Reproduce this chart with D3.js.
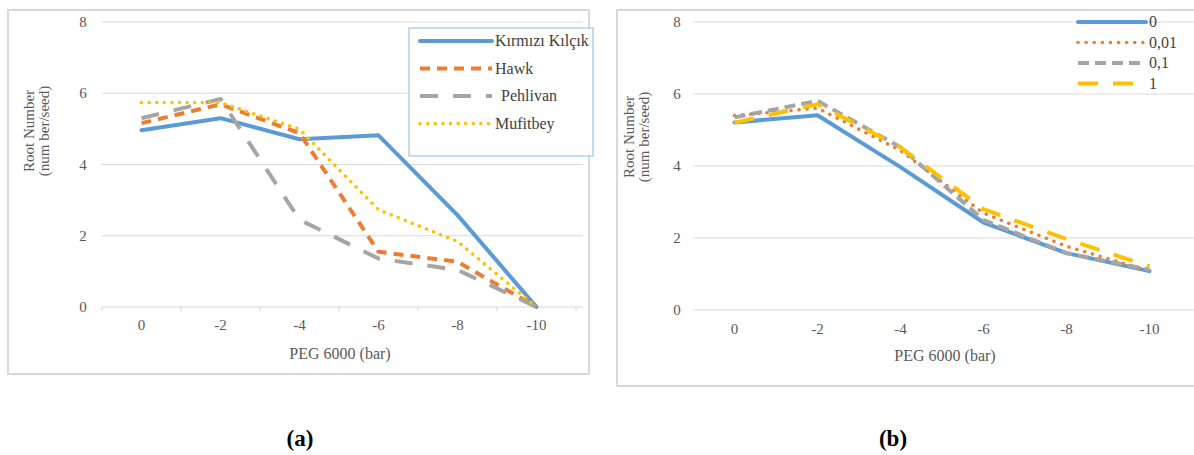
<!DOCTYPE html>
<html>
<head>
<meta charset="utf-8">
<script src="https://cdn.jsdelivr.net/npm/d3@7"></script>
<style>
  body { margin: 0; background: #fff; }
  svg { display: block; }
</style>
</head>
<body>
<svg id="chart" width="1194" height="455"></svg>
<script>
// categories and ticks
const categories = ["0", "-2", "-4", "-6", "-8", "-10"];
const yTicks = [0, 2, 4, 6, 8];

// panel (a): cultivars
const cultivarNames = ["Kırmızı Kılçık", "Hawk", "Pehlivan", "Mufitbey"];
const kirmiziKilcik = [4.96, 5.30, 4.71, 4.82, 2.58, 0];
const hawk = [5.16, 5.69, 4.88, 1.55, 1.27, 0];
const pehlivan = [5.30, 5.84, 2.45, 1.36, 1.04, 0];
const mufitbey = [5.74, 5.74, 4.99, 2.73, 1.84, 0];

// panel (b): doses
const doseNames = ["0", "0,01", "0,1", "1"];
const dose0 = [5.21, 5.41, 3.97, 2.43, 1.58, 1.08];
const dose001 = [5.40, 5.61, 4.43, 2.69, 1.77, 1.08];
const dose01 = [5.35, 5.81, 4.52, 2.50, 1.58, 1.12];
const dose1 = [5.20, 5.72, 4.52, 2.80, 1.97, 1.21];

const FONT = "'Liberation Serif', 'Times New Roman', serif";

const svg = d3.select('#chart');
svg.append('rect').attr('width', 1194).attr('height', 455).attr('fill', '#fff');

function drawPanel(p)
{
  let g = svg.append('g').style('font-family', FONT);

  g.append('rect')
    .attr('x', p.box[0]).attr('y', p.box[1])
    .attr('width', p.box[2]).attr('height', p.box[3])
    .attr('fill', '#fff')
    .attr('stroke', '#d9d9d9')
    .attr('stroke-width', 2)
  ;

  let x = d3.scaleBand().domain(categories).range(p.xRange);
  let y = d3.scaleLinear().domain([0, 8]).range(p.yRange);

  // grid
  g.selectAll('.grid')
    .data(yTicks)
    .enter()
    .append('line')
    .attr('x1', p.xRange[0]).attr('x2', p.gridEnd)
    .attr('y1', d => y(d)).attr('y2', d => y(d))
    .attr('stroke', '#d9d9d9')
    .attr('stroke-width', 1.2)
  ;

  g.selectAll('.ylab')
    .data(yTicks)
    .enter()
    .append('text')
    .attr('x', p.yLabelX)
    .attr('y', d => y(d) + 5)
    .attr('text-anchor', 'middle')
    .attr('fill', '#595959')
    .style('font-size', '15px')
    .text(d => d)
  ;

  if(p.xTicks)
  {
    let edges = categories.map(c => x(c)).concat([p.xRange[1]]);
    g.selectAll('.xtick')
      .data(edges)
      .enter()
      .append('line')
      .attr('x1', d => d).attr('x2', d => d)
      .attr('y1', y(0)).attr('y2', y(0) + 4)
      .attr('stroke', '#d9d9d9')
      .attr('stroke-width', 1.2)
    ;
  }

  g.selectAll('.xlab')
    .data(categories)
    .enter()
    .append('text')
    .attr('x', d => x(d) + x.bandwidth() / 2)
    .attr('y', p.xLabelY)
    .attr('text-anchor', 'middle')
    .attr('fill', '#595959')
    .style('font-size', '15px')
    .text(d => d)
  ;

  g.append('text')
    .attr('x', p.xTitle[0]).attr('y', p.xTitle[1])
    .attr('text-anchor', 'middle')
    .attr('fill', '#595959')
    .style('font-size', '16px')
    .text('PEG 6000 (bar)')
  ;

  let yt = g.append('text')
    .attr('transform', `translate(${p.yTitle[0]}, ${p.yTitle[1]}) rotate(-90)`)
    .attr('text-anchor', 'middle')
    .attr('fill', '#595959')
    .style('font-size', '15px')
  ;
  yt.append('tspan').attr('x', 0).attr('dy', 0).text('Root Number');
  yt.append('tspan').attr('x', 0).attr('dy', 15).text('(num ber/seed)');

  let line = d3.line()
    .x((d, i) => x(categories[i]) + x.bandwidth() / 2)
    .y(d => y(d));

  p.series.forEach(s => {
    g.append('path')
      .attr('d', line(s.values))
      .attr('fill', 'none')
      .attr('stroke', s.color)
      .attr('stroke-width', s.width)
      .attr('stroke-dasharray', s.dash)
      .attr('stroke-linecap', s.cap)
      .attr('stroke-linejoin', 'round')
    ;
  });

  if(p.legendBox)
  {
    g.append('rect')
      .attr('x', p.legendBox[0]).attr('y', p.legendBox[1])
      .attr('width', p.legendBox[2]).attr('height', p.legendBox[3])
      .attr('fill', '#fff')
      .attr('stroke', '#9dc3e6')
      .attr('stroke-width', 1.2)
    ;
  }

  let lg = g.selectAll('.legend')
    .data(p.series)
    .enter()
    .append('g')
    .attr('transform', (d, i) => `translate(${p.legend.x}, ${p.legend.y + i * p.legend.step})`)
  ;

  lg.append('line')
    .attr('x1', 0).attr('x2', p.legend.len)
    .attr('y1', 0).attr('y2', 0)
    .attr('stroke', d => d.color)
    .attr('stroke-width', d => d.width)
    .attr('stroke-dasharray', d => d.dash)
    .attr('stroke-linecap', d => d.cap)
  ;

  lg.append('text')
    .attr('x', d => p.legend.len + 3 + (d.pad || 0))
    .attr('y', 5)
    .attr('fill', '#404040')
    .style('font-size', '16px')
    .text(d => d.name)
  ;
}

drawPanel({
  box: [8, 10, 581, 364],
  xRange: [102, 576],
  gridEnd: 583,
  yRange: [307, 22],
  yLabelX: 83,
  xLabelY: 330,
  xTicks: true,
  xTitle: [340, 359],
  yTitle: [34, 131],
  legendBox: [409, 28, 184, 128],
  legend: { x: 420, y: 41, step: 27.5, len: 72 },
  series: [
    { name: cultivarNames[0], values: kirmiziKilcik, color: '#5b9bd5', width: 4, dash: null, cap: 'round' },
    { name: cultivarNames[1], values: hawk, color: '#ed7d31', width: 4, dash: '10 7', cap: 'butt' },
    { name: cultivarNames[2], values: pehlivan, color: '#a5a5a5', width: 4, dash: '18 15', cap: 'butt', pad: 6 },
    { name: cultivarNames[3], values: mufitbey, color: '#ffc000', width: 3.5, dash: '0.1 7.5', cap: 'round' }
  ]
});

drawPanel({
  box: [617, 10, 590, 376],
  xRange: [693, 1191],
  gridEnd: 1194,
  yRange: [310, 22],
  yLabelX: 677,
  xLabelY: 334,
  xTicks: false,
  xTitle: [945, 361],
  yTitle: [634, 137],
  legendBox: null,
  legend: { x: 1078, y: 22, step: 20.5, len: 68 },
  series: [
    { name: doseNames[0], values: dose0, color: '#5b9bd5', width: 4, dash: null, cap: 'round' },
    { name: doseNames[1], values: dose001, color: '#ed7d31', width: 3.5, dash: '0.1 8', cap: 'round' },
    { name: doseNames[2], values: dose01, color: '#a5a5a5', width: 4, dash: '11 6', cap: 'butt' },
    { name: doseNames[3], values: dose1, color: '#ffc000', width: 4, dash: '20 15', cap: 'butt' }
  ]
});

// captions
svg.append('text').attr('x', 300).attr('y', 446).attr('text-anchor', 'middle').style('font-family', FONT)
  .style('font-size', '23px').style('font-weight', 'bold').attr('fill', '#000').text('(a)');
svg.append('text').attr('x', 893).attr('y', 446).attr('text-anchor', 'middle').style('font-family', FONT)
  .style('font-size', '23px').style('font-weight', 'bold').attr('fill', '#000').text('(b)');
</script>
</body>
</html>
